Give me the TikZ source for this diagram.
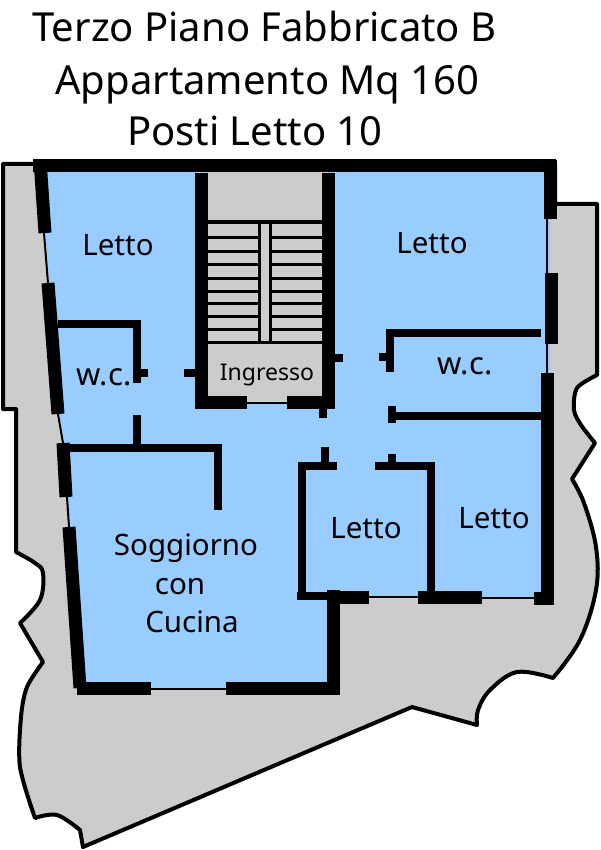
\documentclass[tikz,border=0pt]{standalone}
\usepackage{fontspec}
\setmainfont{Noto Sans}
\usetikzlibrary{positioning}

\definecolor{roomblue}{HTML}{99CCFF}
\definecolor{yardgray}{HTML}{CCCCCC}

\begin{document}
\begin{tikzpicture}[x=1pt,y=-1pt,
    wall/.style={line width=13pt},
    inner/.style={line width=8pt},
    thin/.style={line width=2pt},
    tread/.style={line width=3pt},
    title/.style={inner sep=0pt,anchor=base,font=\fontsize{40}{40}\selectfont},
    room/.style={inner sep=0pt,anchor=base,font=\fontsize{29.5}{30}\selectfont},
    wcroom/.style={room,font=\fontsize{31}{31}\selectfont}]
      \useasboundingbox (0, 0) rectangle (600, 850);

      % yard
      \draw[fill=yardgray,line width=4pt,line join=round] (3, 164) -- (555, 164) -- (555, 204) -- (597, 204) -- (597, 375)
        -- plot[smooth,tension=0.5] coordinates {(597, 375) (577, 388) (574, 410) (581, 425) (595, 443)}
        -- (572, 479)
        -- plot[smooth,tension=0.6] coordinates {(572, 479) (584, 503) (596, 547) (596, 590) (580, 640) (553, 678)}
        -- plot[smooth,tension=0.6] coordinates {(553, 678) (517, 672) (490, 690) (478, 710) (477, 725)}
        -- (412, 707) -- (83, 847) -- (80, 830)
        -- plot[smooth,tension=0.6] coordinates {(80, 830) (57, 815) (35, 818)}
        -- plot[smooth,tension=0.5] coordinates {(35, 818) (20, 767) (21, 717) (27, 687) (43, 662)}
        -- (20, 623)
        -- plot[smooth,tension=0.6] coordinates {(20, 623) (40, 600) (43, 573) (35, 563) (16, 552)}
        -- (16, 409) -- (3, 409) -- cycle;

      % rooms
      \fill[roomblue] (40, 165) -- (550, 165) -- (550, 597) -- (333, 597) -- (333, 688) -- (82, 688) -- cycle;

      % stairwell
      \fill[yardgray] (201, 170) rectangle (328, 403);
      \foreach \y in {222, 237, 251, 264, 278, 291, 303, 316, 329, 342}
        \draw[tread] (207, \y) -- (322, \y);
      \draw[fill=yardgray,line width=3pt] (259, 222) rectangle (270, 342);

      % outer walls
      \draw[wall] (33, 165.5) -- (556, 165.5);
      \draw[wall] (40, 160) -- (45, 233);
      \draw[thin] (44, 233) -- (48, 283);
      \draw[wall] (48, 283) -- (58, 414);
      \draw[thin] (58, 414) -- (63, 443);
      \draw[wall] (63, 443) -- (66, 497);
      \draw[thin] (67, 497) -- (69, 527);
      \draw[wall] (69, 527) -- (80, 688);
      \draw[wall] (77, 688.5) -- (151, 688.5);
      \draw[thin] (151, 689) -- (226, 689);
      \draw[wall] (226, 688.5) -- (340, 688.5);
      \draw[wall] (333.5, 590) -- (333.5, 695);
      \draw[wall] (550, 160) -- (550, 219);
      \draw[thin] (547, 219) -- (547, 273);
      \draw[wall] (551, 273) -- (551, 344);
      \draw[thin] (547, 344) -- (547, 373);
      \draw[wall] (547.5, 373) -- (547.5, 605);
      \draw[wall] (534, 598.5) -- (548, 598.5);
      \draw[thin] (369, 597) -- (418, 597);
      \draw[wall] (418, 597.5) -- (482, 597.5);
      \draw[thin] (482, 598) -- (534, 598);
      \draw[wall] (327, 597) -- (369, 597);
      \draw[inner] (297, 595.5) -- (327, 595.5);

      % stairwell walls
      \draw[wall] (201, 173) -- (201, 409);
      \draw[wall] (328.5, 173) -- (328.5, 409);
      \draw[wall] (195, 402.5) -- (247, 402.5);
      \draw[thin] (247, 403) -- (287, 403);
      \draw[wall] (287, 402.5) -- (335, 402.5);

      % inner walls
      \draw[inner] (58, 324) -- (136.5, 324) -- (136.5, 383);
      \draw[inner] (136.5, 415) -- (136.5, 447.5);
      \draw[inner] (60, 447.5) -- (218, 447.5) -- (218, 510);
      \draw[inner] (541, 333) -- (390, 333) -- (390, 372);
      \draw[inner] (391, 416) -- (541, 416);
      \draw[inner] (337, 465.5) -- (302, 465.5) -- (302, 597);
      \draw[inner] (375, 465.5) -- (431, 465.5) -- (431, 597);

      % door stubs
      \draw[inner] (140, 372.5) -- (148, 372.5);
      \draw[inner] (184, 372.5) -- (195, 372.5);
      \draw[inner] (335, 358) -- (343, 358);
      \draw[inner] (379, 356.5) -- (386, 356.5);
      \draw[inner] (322.5, 409) -- (322.5, 418);
      \draw[inner] (391.5, 406) -- (391.5, 423);
      \draw[inner] (324.5, 447) -- (324.5, 465);
      \draw[inner] (392, 454) -- (392, 465);

      % labels
      \node[title] (line1) at (264.5, 42) {Terzo Piano Fabbricato B};
      \node[title] (line2) at (267.5, 95) {Appartamento Mq 160};
      \node[title] (line3) at (255, 146) {Posti Letto 10};
      \node[room] (bed1) at (118, 255) {Letto};
      \node[room] (bed2) at (432, 253) {Letto};
      \node[room] (bed3) at (366, 538) {Letto};
      \node[room] (bed4) at (494, 528) {Letto};
      \node[wcroom] (wc1) at (104, 385) {w.c.};
      \node[wcroom] (wc2) at (465, 374) {w.c.};
      \node[inner sep=0pt,anchor=base,font=\fontsize{23}{23}\selectfont] (entry) at (267, 380) {Ingresso};
      \node[room] (living) at (186, 555) {Soggiorno};
      \node[room] (with) at (180, 594) {con};
      \node[room] (kitchen) at (192, 632) {Cucina};
    \end{tikzpicture}
\end{document}
